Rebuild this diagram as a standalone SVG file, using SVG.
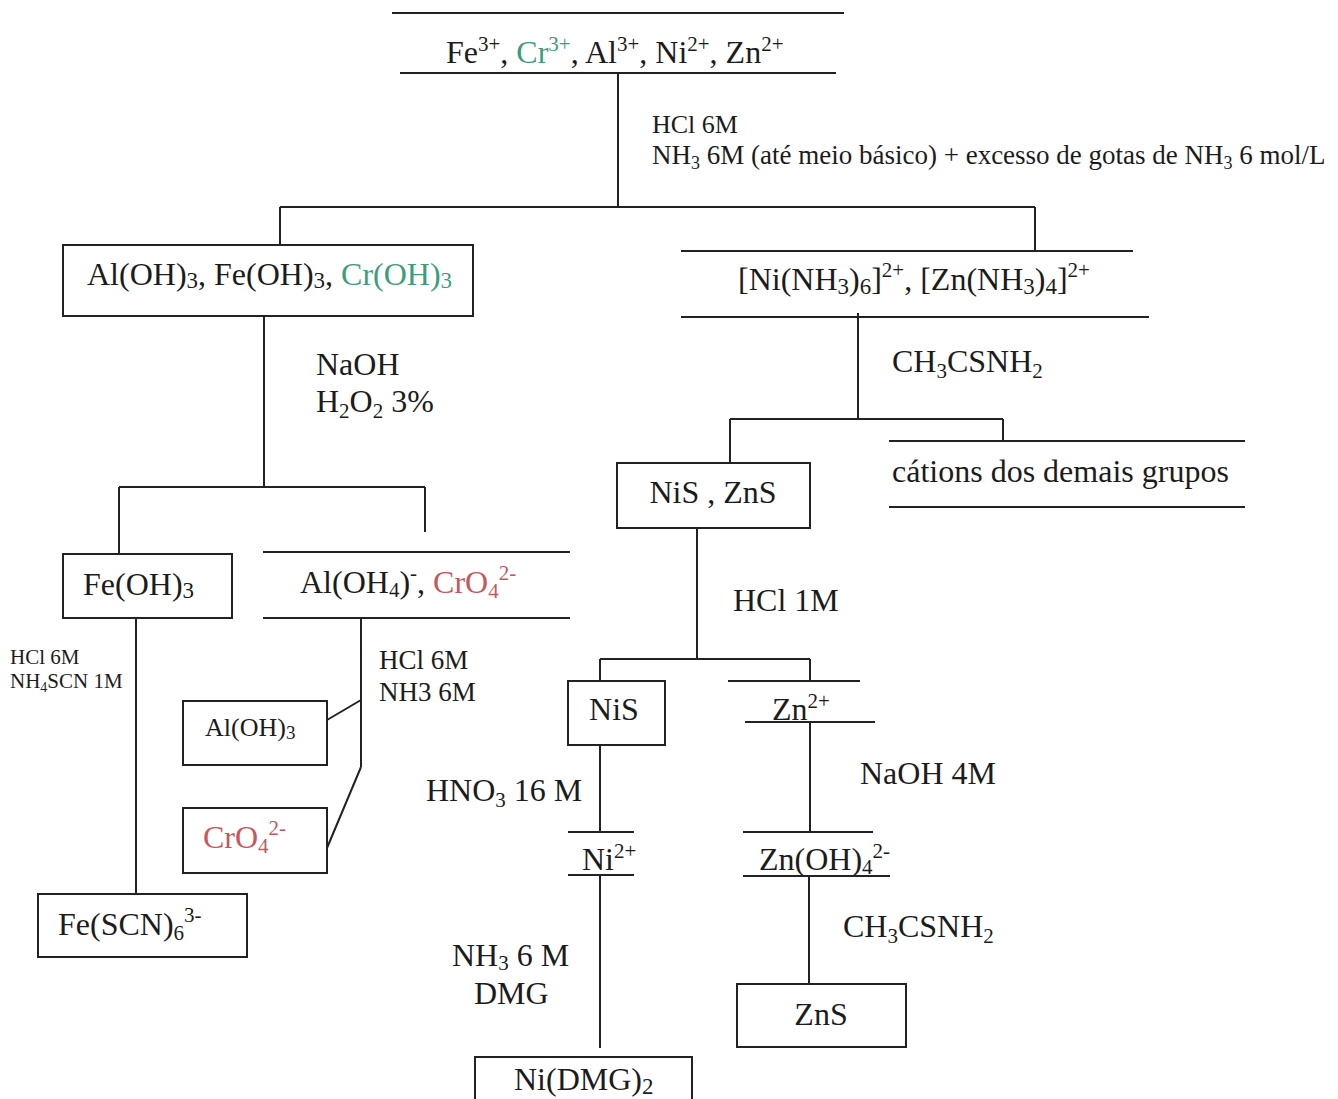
<svg xmlns="http://www.w3.org/2000/svg" width="1338" height="1099" viewBox="0 0 1338 1099">
<style>
text{font-family:"Liberation Serif","Times New Roman",serif;fill:#1c1c1c}
.f32{font-size:32px}
.f27{font-size:27px}
.f26{font-size:26px}
.f21{font-size:21px}
.ln{stroke:#222;stroke-width:2;fill:none}
.box{stroke:#222;stroke-width:2;fill:#fff}
.g{fill:#3d9c7c}
.r{fill:#c4585c}
</style>
<rect width="1338" height="1099" fill="#fff"/>
<g id="connectors">
<path class="ln" d="M618 73V207M280 207H1035M280 207V246M1035 207V251"/>
<path class="ln" d="M264 316V487M119 487H425M119 487V554M425 487V532"/>
<path class="ln" d="M136 618V894"/>
<path class="ln" d="M361 618V767M327 720L361 700M361 767L327 848"/>
<path class="ln" d="M858 313V419M730 419H1003M730 419V463M1003 419V441"/>
<path class="ln" d="M697 528V659M600 659H810M600 659V681M810 659V681"/>
<path class="ln" d="M600 745V832M600 875V1048"/>
<path class="ln" d="M810 722V832M809 876V984"/>
</g>
<g id="labels">
<text class="f26" x="652" y="133">HCl 6M</text>
<text class="f27" x="652" y="164">NH<tspan font-size="18" dy="5">3</tspan><tspan dy="-5"> 6M (até meio básico) + excesso de gotas de NH</tspan><tspan font-size="18" dy="5">3</tspan><tspan dy="-5"> 6 mol/L</tspan></text>
<text class="f32" x="316" y="375">NaOH</text>
<text class="f32" x="316" y="412">H<tspan font-size="21" dy="6">2</tspan><tspan dy="-6">O</tspan><tspan font-size="21" dy="6">2</tspan><tspan dy="-6"> 3%</tspan></text>
<text class="f21" x="10" y="664">HCl 6M</text>
<text class="f21" x="10" y="688">NH<tspan font-size="14" dy="4">4</tspan><tspan dy="-4">SCN 1M</tspan></text>
<text class="f27" x="379" y="669">HCl 6M</text>
<text class="f27" x="379" y="701">NH3 6M</text>
<text class="f32" x="892" y="372">CH<tspan font-size="21" dy="6">3</tspan><tspan dy="-6">CSNH</tspan><tspan font-size="21" dy="6">2</tspan></text>
<text class="f32" x="733" y="611">HCl 1M</text>
<text class="f32" x="426" y="801">HNO<tspan font-size="21" dy="6">3</tspan><tspan dy="-6"> 16 M</tspan></text>
<text class="f32" x="860" y="784">NaOH 4M</text>
<text class="f32" x="843" y="937">CH<tspan font-size="21" dy="6">3</tspan><tspan dy="-6">CSNH</tspan><tspan font-size="21" dy="6">2</tspan></text>
<text class="f32" x="452" y="966">NH<tspan font-size="21" dy="4">3</tspan><tspan dy="-4"> 6 M</tspan></text>
<text class="f32" x="474" y="1004">DMG</text>
</g>
<g id="n-start">
<path class="ln" d="M392 13H844M400 73H836"/>
<text class="f32" x="446" y="63">Fe<tspan font-size="21" dy="-12">3+</tspan><tspan dy="12">, </tspan><tspan class="g">Cr</tspan><tspan class="g" font-size="21" dy="-12">3+</tspan><tspan dy="12">, Al</tspan><tspan font-size="21" dy="-12">3+</tspan><tspan dy="12">, Ni</tspan><tspan font-size="21" dy="-12">2+</tspan><tspan dy="12">, Zn</tspan><tspan font-size="21" dy="-12">2+</tspan></text>
</g>
<g id="n-hydroxides">
<rect class="box" x="63" y="245" width="410" height="71"/>
<text class="f32" x="87" y="285">Al(OH)<tspan font-size="23" dy="3">3</tspan><tspan dy="-3">, Fe(OH)</tspan><tspan font-size="23" dy="3">3</tspan><tspan dy="-3">, </tspan><tspan class="g">Cr(OH)</tspan><tspan class="g" font-size="23" dy="3">3</tspan></text>
</g>
<g id="n-ammine">
<path class="ln" d="M681 251H1133M681 317H1149"/>
<text class="f32" x="738" y="290">[Ni(NH<tspan font-size="23" dy="4">3</tspan><tspan dy="-4">)</tspan><tspan font-size="23" dy="4">6</tspan><tspan dy="-4">]</tspan><tspan font-size="21" dy="-13">2+</tspan><tspan dy="13">, [Zn(NH</tspan><tspan font-size="23" dy="4">3</tspan><tspan dy="-4">)</tspan><tspan font-size="23" dy="4">4</tspan><tspan dy="-4">]</tspan><tspan font-size="21" dy="-13">2+</tspan></text>
</g>
<g id="n-feoh">
<rect class="box" x="63" y="554" width="169" height="64"/>
<text class="f32" x="83" y="595">Fe(OH)<tspan font-size="23" dy="3">3</tspan></text>
</g>
<g id="n-aloh4">
<path class="ln" d="M263 552H570M263 618H570"/>
<text class="f32" x="300" y="593">Al(OH<tspan font-size="21" dy="4">4</tspan><tspan dy="-4">)</tspan><tspan font-size="21" dy="-13">-</tspan><tspan dy="13">, </tspan><tspan class="r">CrO</tspan><tspan class="r" font-size="21" dy="5">4</tspan><tspan class="r" font-size="21" dy="-18">2-</tspan></text>
</g>
<g id="n-fescn">
<rect class="box" x="38" y="894" width="209" height="63"/>
<text class="f32" x="58" y="935">Fe(SCN)<tspan font-size="21" dy="5">6</tspan><tspan font-size="21" dy="-18">3-</tspan></text>
</g>
<g id="n-aloh3">
<rect class="box" x="183" y="701" width="144" height="64"/>
<text class="f26" x="205" y="736">Al(OH)<tspan font-size="19" dy="3">3</tspan></text>
</g>
<g id="n-cro4">
<rect class="box" x="183" y="808" width="144" height="65"/>
<text class="f32 r" x="203" y="848">CrO<tspan font-size="21" dy="5">4</tspan><tspan font-size="21" dy="-18">2-</tspan></text>
</g>
<g id="n-nis-zns">
<rect class="box" x="617" y="463" width="193" height="65"/>
<text class="f32" x="713" y="503" text-anchor="middle">NiS , ZnS</text>
</g>
<g id="n-demais">
<path class="ln" d="M889 441H1245M889 507H1245"/>
<text class="f32" x="892" y="482">cátions dos demais grupos</text>
</g>
<g id="n-nis">
<rect class="box" x="568" y="681" width="97" height="64"/>
<text class="f32" x="614" y="720" text-anchor="middle">NiS</text>
</g>
<g id="n-zn">
<path class="ln" d="M728 681H860M745 722H875"/>
<text class="f32" x="772" y="720">Zn<tspan font-size="21" dy="-12">2+</tspan></text>
</g>
<g id="n-ni">
<path class="ln" d="M568 832H634M568 875H634"/>
<text class="f32" x="582" y="870">Ni<tspan font-size="21" dy="-12">2+</tspan></text>
</g>
<g id="n-znoh4">
<path class="ln" d="M743 832H873M743 876H890"/>
<text class="f32" x="759" y="870">Zn(OH)<tspan font-size="21" dy="4">4</tspan><tspan font-size="21" dy="-16">2-</tspan></text>
</g>
<g id="n-zns">
<rect class="box" x="737" y="984" width="169" height="63"/>
<text class="f32" x="821" y="1025" text-anchor="middle">ZnS</text>
</g>
<g id="n-nidmg">
<rect class="box" x="475" y="1057" width="217" height="60"/>
<text class="f32" x="514" y="1090">Ni(DMG)<tspan font-size="23" dy="4">2</tspan></text>
</g>
</svg>
